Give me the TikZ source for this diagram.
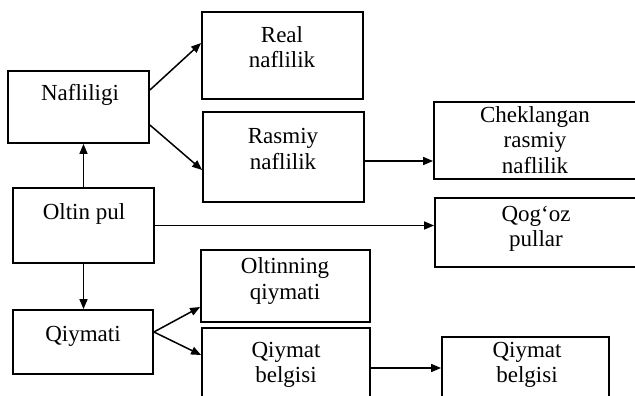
\documentclass[tikz,border=0pt]{standalone}
\usepackage{fontspec}
\setmainfont{Liberation Serif}
\usetikzlibrary{arrows.meta}
\begin{document}
\begin{tikzpicture}[x=1pt,y=-1pt,
  box/.style={draw=black,line width=1.8pt,rectangle,inner sep=0pt},
  txt/.style={align=center,inner sep=0pt,font=\fontsize{23}{25.5}\selectfont},
  arr/.style={line width=1.5pt,-{Triangle[length=10pt,width=8pt]}}]
\clip (0,0) rectangle (635,396);
\fill[white] (0,0) rectangle (635,396);
% boxes
\node[box,minimum width=141pt,minimum height=72pt] (naf) at (78.5,107) {};
\node[box,minimum width=161pt,minimum height=87pt] (real) at (282.5,55.5) {};
\node[box,minimum width=161pt,minimum height=90pt] (ras) at (283.5,157) {};
\node[box,minimum width=204pt,minimum height=77pt] (chek) at (536,140.5) {};
\node[box,minimum width=203pt,minimum height=69pt] (qog) at (536.5,232.5) {};
\node[box,minimum width=141pt,minimum height=75pt] (oltin) at (83.5,225.5) {};
\node[box,minimum width=140pt,minimum height=64pt] (qiy) at (83,342) {};
\node[box,minimum width=169pt,minimum height=72pt] (oltq) at (285.5,286) {};
\node[box,minimum width=168pt,minimum height=92pt] (qb) at (286,374) {};
\node[box,minimum width=167pt,minimum height=83pt] (qb2) at (525.5,378.5) {};
% texts
\node[txt] (nafT) at (80,95) {Nafliligi};
\node[txt] (realT) at (282,47) {Real\\naflilik};
\node[txt] (rasT) at (283,149) {Rasmiy\\naflilik};
\node[txt] (chekT) at (535,140) {Cheklangan\\rasmiy\\naflilik};
\node[txt] (qogT) at (536,229) {Qog‘oz\\pullar};
\node[txt] (oltinT) at (84,214) {Oltin pul};
\node[txt] (qiyT) at (83,336) {Qiymati};
\node[txt] (oltqT) at (285,281) {Oltinning\\qiymati};
\node[txt] (qbT) at (286,365) {Qiymat\\belgisi};
\node[txt] (qb2T) at (527,365) {Qiymat\\belgisi};
% connectors
\draw[arr] ([yshift=17pt]naf.east) -- ([yshift=12.5pt]real.west);
\draw[arr] ([yshift=-18pt]naf.east) -- ([yshift=-13pt]ras.west);
\draw[arr] (oltin.north) -- (oltin.north |- naf.south);
\draw[arr] (oltin.south) -- (oltin.south |- qiy.north);
\draw[arr] (oltin.east) -- (oltin.east -| qog.west);
\draw[arr] ([yshift=-4pt]ras.east) -- ([yshift=-4pt]ras.east -| chek.west);
\draw[arr] ([yshift=10pt]qiy.east) -- ([yshift=-21pt]oltq.west);
\draw[arr] ([yshift=10pt]qiy.east) -- ([yshift=19pt]qb.west);
\draw[arr] ([yshift=6pt]qb.east) -- ([yshift=6pt]qb.east -| qb2.west);
\end{tikzpicture}
\end{document}
